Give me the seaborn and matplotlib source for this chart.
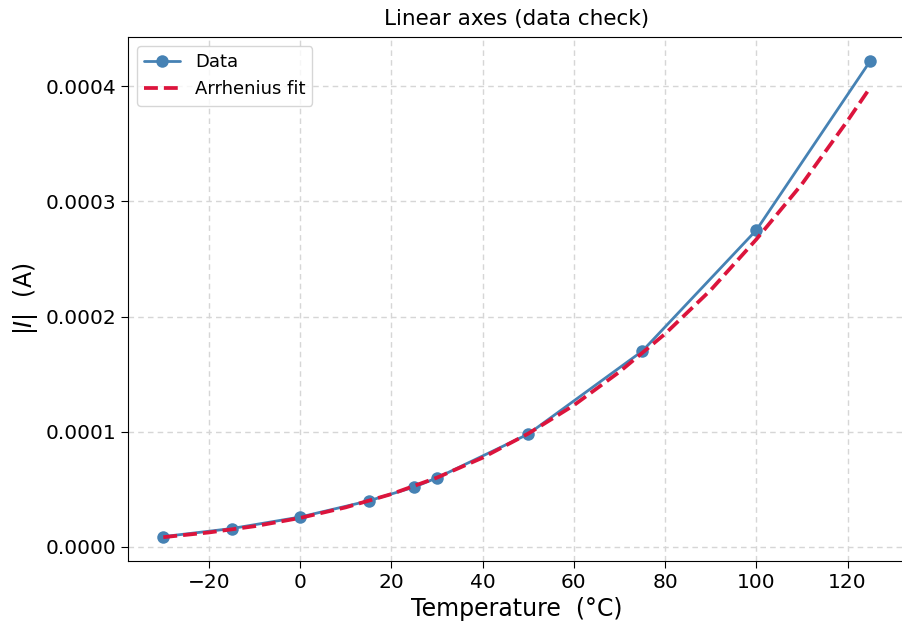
import numpy as np
import pandas as pd
import matplotlib
matplotlib.use("Agg")
import matplotlib.pyplot as plt
import seaborn as sns

# measured points
temp_c = [-30, -15, 0, 15, 25, 30, 50, 75, 100, 125]
current_a = [9.0e-6, 1.6e-5, 2.6e-5, 4.0e-5, 5.2e-5, 6.0e-5, 9.8e-5, 1.70e-4, 2.75e-4, 4.22e-4]

# Arrhenius fit curve
fit_t = [-30, -20, -10, 0, 10, 20, 30, 40, 50, 60, 70, 80, 90, 100, 110, 120, 125]
fit_i = [8.5e-6, 1.26e-5, 1.80e-5, 2.52e-5, 3.44e-5, 4.59e-5, 6.02e-5, 7.75e-5, 9.84e-5,
         1.23e-4, 1.52e-4, 1.85e-4, 2.23e-4, 2.67e-4, 3.15e-4, 3.70e-4, 3.99e-4]

sns.set_style("ticks")
plt.rcParams['font.family'] = ['DejaVu Sans']
plt.rcParams['text.color'] = 'black'
plt.rcParams['axes.labelcolor'] = 'black'
plt.rcParams['xtick.color'] = 'black'
plt.rcParams['ytick.color'] = 'black'
plt.rcParams['axes.edgecolor'] = 'black'

fig = plt.figure(figsize=(9.03, 6.25), dpi=100)
ax = fig.add_axes([0.1417, 0.1024, 0.8613, 0.8384])

df = pd.DataFrame({'T': temp_c, 'I': current_a})
fit_df = pd.DataFrame({'T': fit_t, 'I': fit_i})

sns.lineplot(data=df, x='T', y='I', ax=ax, color='steelblue', marker='o',
             markersize=9, markeredgewidth=0, linewidth=2, label='Data')
sns.lineplot(data=fit_df, x='T', y='I', ax=ax, color='crimson', linestyle='--',
             linewidth=2.7, label='Arrhenius fit')

ax.margins(x=0.05, y=0.05)
ax.grid(True, linestyle=(0, (4, 3)), color='#d6d6d6', linewidth=1)
ax.set_axisbelow(True)
ax.spines['right'].set_visible(False)  # sits past the image edge in the original
ax.set_xlabel('Temperature  (°C)', fontsize=17)
ax.set_ylabel(r'$|I|$  (A)', fontsize=17)
ax.set_title('Linear axes (data check)', fontsize=15.5, pad=9)
ax.tick_params(labelsize=14.5, length=5)
ax.legend(loc='upper left', fontsize=13)

fig.savefig('out.png', dpi=100)
